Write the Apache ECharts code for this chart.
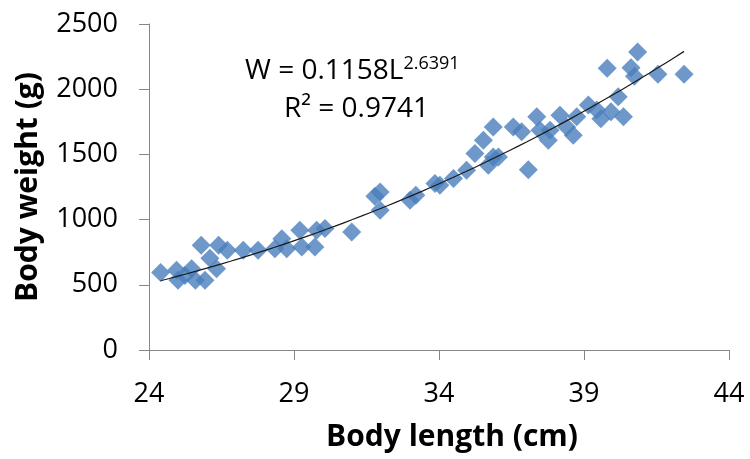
<!DOCTYPE html>
<html>
<head>
<meta charset="utf-8">
<script src="https://cdn.jsdelivr.net/npm/echarts@6/dist/echarts.min.js"></script>
<style>html,body{margin:0;padding:0;background:#fff}#c{width:750px;height:459px}</style>
</head>
<body>
<div id="c"></div>
<script>
// Observed data: body length (cm) and body weight (g)
var lengthCm = [24.4, 24.95, 25.0, 25.24, 25.47, 25.6, 25.93, 25.8, 26.1, 26.33, 26.4, 26.7, 27.25, 27.76,
  28.34, 28.58, 28.75, 29.2, 29.27, 29.72, 29.78, 30.07, 30.99,
  31.79, 31.97, 31.97, 33.0, 33.2, 33.86, 34.03, 34.5, 34.95,
  35.24, 35.53, 35.87, 35.87, 35.7, 36.05, 36.56, 36.85, 37.08, 37.37, 37.48, 37.77, 37.83,
  38.17, 38.4, 38.63, 38.75, 39.15, 39.44, 39.58, 39.93, 40.18, 40.36,
  39.8, 40.85, 40.62, 40.74, 41.55, 42.45];
var weightG = [595, 611, 534, 572, 624, 534, 534, 803, 703, 624, 803, 764, 764, 764,
  777, 854, 777, 918, 790, 790, 918, 931, 905,
  1179, 1212, 1071, 1148, 1187, 1276, 1263, 1315, 1379,
  1507, 1609, 1711, 1481, 1417, 1481, 1711, 1673, 1383, 1788, 1686, 1609, 1686,
  1801, 1711, 1647, 1788, 1878, 1840, 1774, 1827, 1942, 1788,
  2160, 2285, 2165, 2100, 2115, 2115];

// Power fit reported on the chart: W = a * L^b
var fitA = 0.1158, fitB = 2.6391;
var fitRange = [24.4, 42.45];
var xTicks = [24, 29, 34, 39, 44];
var yTicks = [0, 500, 1000, 1500, 2000, 2500];

var points = lengthCm.map(function (x, i) { return [x, weightG[i]]; });
var fitLine = [];
for (var k = 0; k <= 60; k++) {
  var L = fitRange[0] + (fitRange[1] - fitRange[0]) * k / 60;
  fitLine.push([L, fitA * Math.pow(L, fitB)]);
}

var FONT = '"Open Sans", "Liberation Sans", sans-serif';
var axisGray = '#868686';
var chart = echarts.init(document.getElementById('c'), null, {renderer: 'canvas'});
chart.setOption({
  animation: false,
  backgroundColor: '#fff',
  grid: {left: 149, right: 21, top: 24, bottom: 109, containLabel: false},
  xAxis: {
    type: 'value', min: xTicks[0], max: xTicks[xTicks.length - 1], interval: 5,
    name: 'Body length (cm)', nameLocation: 'middle', nameGap: 72,
    nameTextStyle: {fontFamily: FONT, fontSize: 30, fontWeight: 'bold', color: '#000', padding: [0, 0, 0, 26]},
    axisLine: {show: true, onZero: false, lineStyle: {color: axisGray, width: 1}},
    axisTick: {show: true, inside: false, length: 10, lineStyle: {color: axisGray}},
    axisLabel: {fontFamily: FONT, fontSize: 27, color: '#000', margin: 31,
      formatter: function (v) { return String(v); }},
    splitLine: {show: false}
  },
  yAxis: {
    type: 'value', min: yTicks[0], max: yTicks[yTicks.length - 1], interval: 500,
    name: 'Body weight (g)', nameLocation: 'middle', nameGap: 106, nameRotate: 90,
    nameTextStyle: {fontFamily: FONT, fontSize: 30, fontWeight: 'bold', color: '#000'},
    axisLine: {show: true, lineStyle: {color: axisGray, width: 1}},
    axisTick: {show: true, inside: false, length: 10, lineStyle: {color: axisGray}},
    axisLabel: {fontFamily: FONT, fontSize: 27, color: '#000', margin: 31,
      formatter: function (v) { return String(v); }},
    splitLine: {show: false}
  },
  series: [
    {
      type: 'scatter', data: points, symbol: 'diamond', symbolSize: 19,
      itemStyle: {color: '#4a7ebb'}, z: 2
    },
    {
      type: 'line', data: fitLine, showSymbol: false, smooth: false,
      lineStyle: {color: '#1a1a1a', width: 1.2}, z: 3
    }
  ],
  graphic: [
    {type: 'text', left: 245, top: 55, style: {
      text: '{a|W = 0.1158L}{s|2.6391}',
      rich: {
        a: {fontFamily: FONT, fontSize: 28, fill: '#000', color: '#000', lineHeight: 36},
        s: {fontFamily: FONT, fontSize: 18, fill: '#000', color: '#000', padding: [0, 0, 14, 0]}
      }
    }},
    {type: 'text', left: 284, top: 95, style: {text: 'R² = 0.9741', font: '28px ' + FONT, fill: '#000'}}
  ]
});
</script>
</body>
</html>
